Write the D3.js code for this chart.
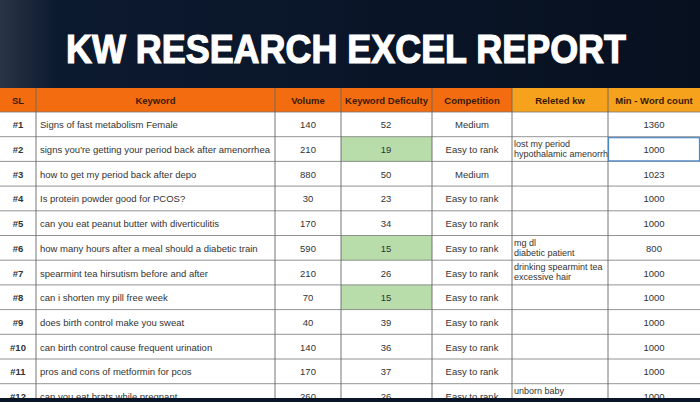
<!DOCTYPE html><html><head><meta charset="utf-8"><script src="https://cdn.jsdelivr.net/npm/d3@7"></script>
<style>body{margin:0;background:#0b1528;overflow:hidden}</style></head><body><svg id="c" width="700" height="402"></svg>
<script>
const title="KW RESEARCH EXCEL REPORT";
const headers=["SL","Keyword","Volume","Keyword Deficulty","Competition","Releted kw","Min - Word count"];
const sl=["#1","#2","#3","#4","#5","#6","#7","#8","#9","#10","#11","#12"];
const keywords=["Signs of fast metabolism Female","signs you're getting your period back after amenorrhea","how to get my period back after depo","Is protein powder good for PCOS?","can you eat peanut butter with diverticulitis","how many hours after a meal should a diabetic train","spearmint tea hirsutism before and after","can i shorten my pill free week","does birth control make you sweat","can birth control cause frequent urination","pros and cons of metformin for pcos","can you eat brats while pregnant"];
const volume=[140,210,880,30,170,590,210,70,40,140,170,260];
const kd=[52,19,50,23,34,15,26,15,39,36,37,26];
const competition=["Medium","Easy to rank","Medium","Easy to rank","Easy to rank","Easy to rank","Easy to rank","Easy to rank","Easy to rank","Easy to rank","Easy to rank","Easy to rank"];
const related=["","lost my period|hypothalamic amenorrh","","","","mg dl|diabetic patient","drinking spearmint tea|excessive hair","","","","","unborn baby|"];
const wordCount=[1360,1000,1023,1000,1000,800,1000,1000,1000,1000,1000,1000];
const colEdges=[0,36,275,341,432,512,608,700];
const svg=d3.select("#c");
const defs=svg.append("defs");
const g=defs.append("linearGradient").attr("id","bg").attr("x1",0).attr("x2",1);
g.append("stop").attr("offset",0).attr("stop-color","#2a3444");
g.append("stop").attr("offset",0.08).attr("stop-color","#0c1a30");
g.append("stop").attr("offset",1).attr("stop-color","#07101f");
svg.append("rect").attr("width",700).attr("height",402).attr("fill","url(#bg)");
svg.append("text").attr("x",346).attr("y",63).attr("text-anchor","middle").attr("fill","#fff")
 .attr("stroke","#fff").attr("stroke-width",1.2)
 .attr("font-family","Liberation Sans, Arial").attr("font-weight","bold").attr("font-size",40)
 .attr("textLength",560).attr("lengthAdjust","spacingAndGlyphs").text(title);
const topY=88,hh=24,rh=24.7;
const y=d3.scaleLinear().domain([0,1]).range([topY+hh,topY+hh+rh]);
const F="Liberation Sans, Arial";
const tbl=svg.append("g");
tbl.append("rect").attr("x",0).attr("y",topY).attr("width",700).attr("height",402-topY).attr("fill","#fff");
headers.forEach((h,j)=>{
 tbl.append("rect").attr("x",colEdges[j]).attr("y",topY).attr("width",colEdges[j+1]-colEdges[j]).attr("height",hh).attr("fill",j>=5?"#f6a21c":"#f36d10");
 tbl.append("text").attr("x",(colEdges[j]+colEdges[j+1])/2).attr("y",topY+16).attr("text-anchor","middle").attr("font-family",F).attr("font-size",9.5).attr("font-weight","bold").attr("fill","#3a1a05").text(h);
});
sl.forEach((s,i)=>{
 const yy=y(i),cy=yy+rh/2+4;
 if(kd[i]<20) tbl.append("rect").attr("x",colEdges[3]).attr("y",yy).attr("width",colEdges[4]-colEdges[3]).attr("height",rh).attr("fill","#b8dcaa");
 const t=(x,txt,anchor,bold)=>tbl.append("text").attr("x",x).attr("y",cy).attr("text-anchor",anchor).attr("font-family",F).attr("font-size",9.5).attr("font-weight",bold?"bold":"normal").attr("fill","#333").text(txt);
 t(18,s,"middle",true);
 t(40,keywords[i],"start");
 t(308,volume[i],"middle");
 t(386,kd[i],"middle");
 t(472,competition[i],"middle");
 t(654,wordCount[i],"middle");
 if(related[i]){related[i].split("|").forEach((l,k)=>tbl.append("text").attr("x",514).attr("y",yy+10+k*10).attr("font-family",F).attr("font-size",9).attr("fill","#333").text(l));}
});
for(let i=0;i<=12;i++) tbl.append("line").attr("x1",0).attr("x2",700).attr("y1",y(i)).attr("y2",y(i)).attr("stroke","#777").attr("stroke-width",0.8);
colEdges.slice(1,-1).forEach(x=>tbl.append("line").attr("x1",x).attr("x2",x).attr("y1",topY).attr("y2",402).attr("stroke","#666").attr("stroke-width",0.9));
tbl.append("rect").attr("x",608.5).attr("y",y(1)+1).attr("width",91).attr("height",rh-1.5).attr("fill","none").attr("stroke","#4a86c8").attr("stroke-width",1.2);
svg.append("rect").attr("x",0).attr("y",398).attr("width",700).attr("height",4).attr("fill","#0b1528");
</script></body></html>
